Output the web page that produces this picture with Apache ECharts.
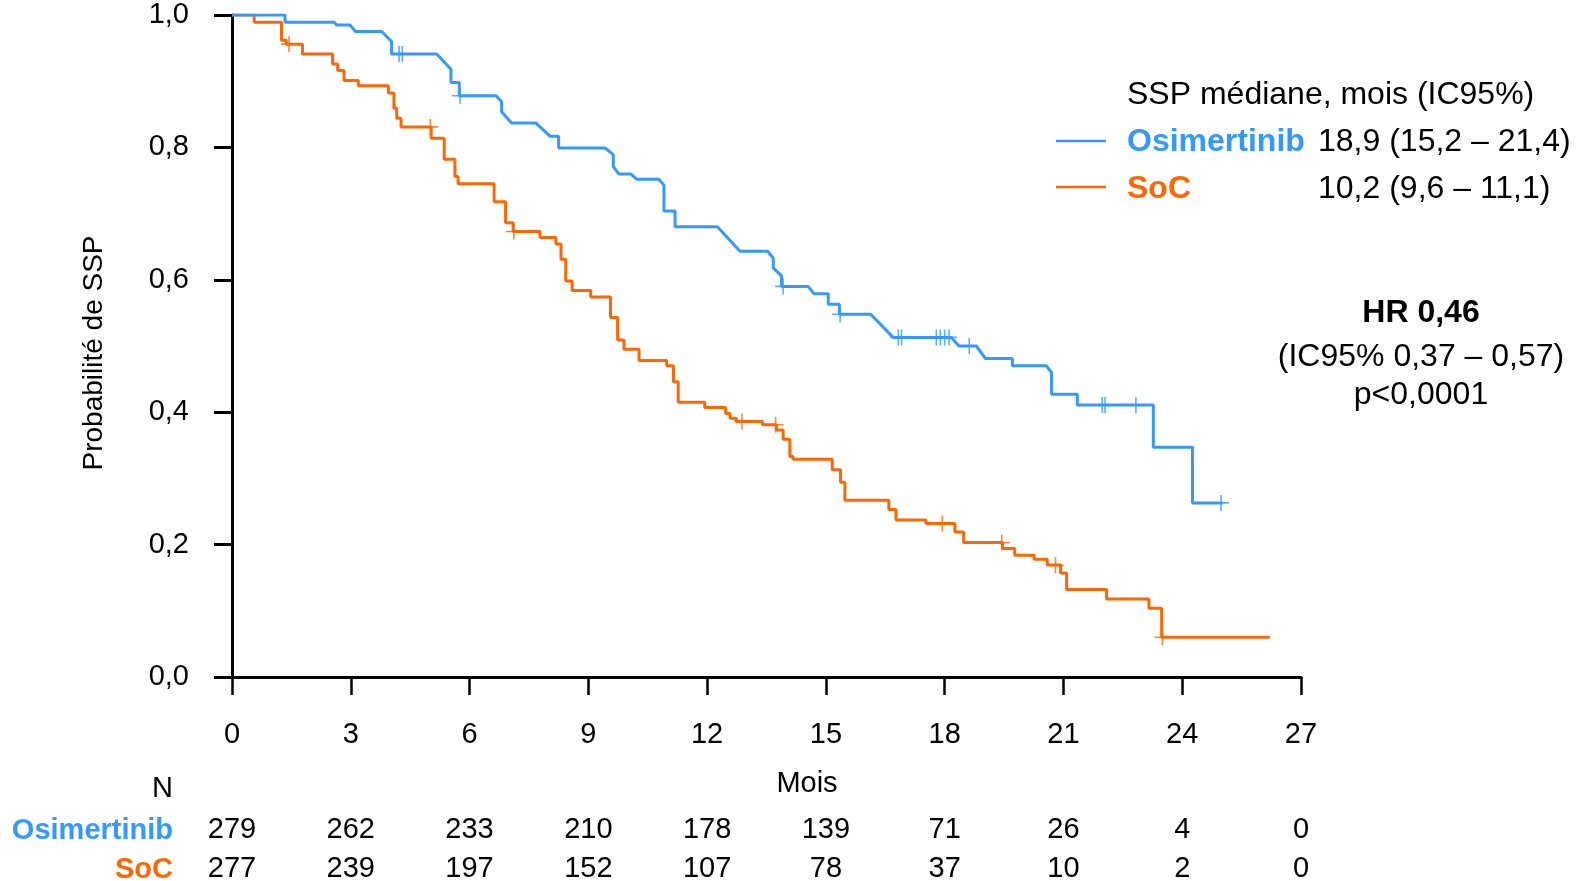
<!DOCTYPE html>
<html>
<head>
<meta charset="utf-8">
<script src="https://cdn.jsdelivr.net/npm/echarts@6/dist/echarts.min.js"></script>
<style>
    html, body { margin: 0; padding: 0; background: #fff; }
    #chart { width: 1580px; height: 881px; }
</style>
</head>
<body>
<div id="chart"></div>
<script>
// Courbe Osimertinib : sommets [mois, probabilité]
const osiCurve = [
    [0, 1.0], [1.34, 1.0], [1.34, 0.989], [2.58, 0.989], [2.64, 0.985], [2.98, 0.985],
    [3.12, 0.975], [3.78, 0.975], [4.03, 0.960], [4.03, 0.941], [5.17, 0.941], [5.53, 0.918],
    [5.53, 0.898], [5.74, 0.898], [5.74, 0.878], [6.67, 0.878], [6.81, 0.869], [6.81, 0.854],
    [7.06, 0.837], [7.67, 0.837], [8.03, 0.817], [8.25, 0.817], [8.25, 0.799], [9.43, 0.799],
    [9.63, 0.789], [9.63, 0.771], [9.77, 0.760], [10.07, 0.760], [10.22, 0.752], [10.78, 0.752],
    [10.91, 0.743], [10.91, 0.704], [11.19, 0.704], [11.19, 0.680], [12.26, 0.680], [12.83, 0.643],
    [13.53, 0.643], [13.67, 0.633], [13.67, 0.618], [13.88, 0.606], [13.88, 0.590], [14.55, 0.590],
    [14.70, 0.579], [15.06, 0.579], [15.06, 0.563], [15.34, 0.563], [15.34, 0.548], [16.13, 0.548],
    [16.70, 0.513], [18.17, 0.513], [18.36, 0.500], [18.80, 0.500], [19.03, 0.481], [19.71, 0.481],
    [19.71, 0.470], [20.57, 0.470], [20.70, 0.460], [20.70, 0.427], [21.35, 0.427], [21.35, 0.411],
    [23.27, 0.411], [23.27, 0.347], [24.26, 0.347], [24.26, 0.263], [25.02, 0.263]
];
const osiCensored = [4.22, 4.30, 5.76, 13.92, 15.36, 16.83, 16.91, 17.79, 17.89, 18.0, 18.11, 18.62, 21.98, 22.05, 22.83, 24.98];

// SoC : [mois, probabilité après chaque événement]
const socSteps = [
    [0, 1.0], [0.56, 0.989], [1.25, 0.962], [1.37, 0.956], [1.78, 0.941], [2.54, 0.926],
    [2.67, 0.916], [2.83, 0.901], [3.19, 0.893], [3.95, 0.882], [4.09, 0.859], [4.16, 0.844],
    [4.27, 0.831], [5.03, 0.814], [5.36, 0.782], [5.63, 0.756], [5.71, 0.745], [6.62, 0.718],
    [6.91, 0.686], [7.10, 0.673], [7.78, 0.664], [8.18, 0.654], [8.31, 0.631], [8.43, 0.598],
    [8.59, 0.584], [9.06, 0.574], [9.56, 0.543], [9.74, 0.509], [9.90, 0.495], [10.28, 0.478],
    [10.98, 0.470], [11.15, 0.446], [11.27, 0.415], [11.94, 0.407], [12.47, 0.398], [12.58, 0.391],
    [12.74, 0.386], [13.40, 0.381], [13.75, 0.373], [13.92, 0.359], [14.09, 0.333], [14.17, 0.329],
    [15.16, 0.313], [15.37, 0.294], [15.48, 0.267], [16.59, 0.253], [16.77, 0.237], [17.53, 0.232],
    [18.26, 0.219], [18.48, 0.203], [19.46, 0.194], [19.77, 0.184], [20.26, 0.178], [20.59, 0.169],
    [20.93, 0.157], [21.08, 0.132], [22.09, 0.118], [23.16, 0.104], [23.48, 0.060], [26.21, 0.060]
];
const socCensored = [1.44, 5.01, 7.12, 12.88, 13.73, 17.94, 19.44, 20.80, 23.50];

const xTicks = [0, 3, 6, 9, 12, 15, 18, 21, 24, 27];
const riskOsi = [279, 262, 233, 210, 178, 139, 71, 26, 4, 0];
const riskSoc = [277, 239, 197, 152, 107, 78, 37, 10, 2, 0];

const BLUE = "#3399ff";
const ORANGE = "#ff6600";
const FONT = "'Liberation Sans', Arial, sans-serif";
const PLUS = "path://M9,0H11V20H9Z M0,9H20V11H0Z";

function expandSteps(steps) {
    const out = [steps[0]];
    for (let i = 1; i < steps.length; i++) {
        out.push([steps[i][0], steps[i - 1][1]]);
        out.push(steps[i]);
    }
    return out;
}

function valueAt(curve, t) {
    for (let i = 0; i < curve.length - 1; i++) {
        const a = curve[i];
        const b = curve[i + 1];
        if (a[0] === b[0]) {
            continue;
        }
        if (t >= a[0] && t <= b[0]) {
            return a[1] + (b[1] - a[1]) * (t - a[0]) / (b[0] - a[0]);
        }
    }
    return curve[curve.length - 1][1];
}

const socCurve = expandSteps(socSteps);
const osiMarks = osiCensored.map(t => [t, valueAt(osiCurve, t)]);
const socMarks = socCensored.map(t => [t, valueAt(socCurve, t)]);

const comma = v => String(v).replace(".", ",");

function riskAxis(values, margin) {
    return {
        type: "value",
        position: "bottom",
        offset: 0,
        min: 0,
        max: 27,
        interval: 3,
        axisLine: { show: false },
        axisTick: { show: false },
        splitLine: { show: false },
        axisLabel: {
            margin,
            color: "#000",
            fontSize: 29,
            fontFamily: FONT,
            formatter: v => String(values[xTicks.indexOf(v)])
        }
    };
}

function text(x, y, str, opts) {
    return {
        type: "text",
        x,
        y,
        style: Object.assign({
            text: str,
            fill: "#000",
            fontSize: 32,
            fontFamily: FONT,
            textAlign: "left",
            textVerticalAlign: "middle"
        }, opts || {})
    };
}

const chart = echarts.init(document.getElementById("chart"), null, { renderer: "canvas" });

chart.setOption({
    backgroundColor: "#fff",
    animation: false,
    grid: { left: 232, top: 15, width: 1069, height: 662, containLabel: false, outerBoundsMode: "none" },
    xAxis: [
        {
            type: "value",
            min: 0,
            max: 27,
            interval: 3,
            axisLine: { lineStyle: { color: "#000", width: 3 } },
            axisTick: { length: 18, lineStyle: { color: "#000", width: 2.5 } },
            splitLine: { show: false },
            axisLabel: { margin: 43, color: "#000", fontSize: 29, fontFamily: FONT }
        },
        riskAxis(riskOsi, 138),
        riskAxis(riskSoc, 177)
    ],
    yAxis: {
        type: "value",
        min: 0,
        max: 1,
        interval: 0.2,
        axisLine: { show: true, lineStyle: { color: "#000", width: 3 } },
        axisTick: { show: true, length: 18, lineStyle: { color: "#000", width: 3 } },
        splitLine: { show: false },
        axisLabel: {
            margin: 43,
            color: "#000",
            fontSize: 29,
            fontFamily: FONT,
            formatter: v => comma(v.toFixed(1))
        }
    },
    series: [
        {
            name: "SoC",
            type: "line",
            data: socCurve,
            showSymbol: false,
            lineStyle: { color: ORANGE, width: 3 },
            z: 3
        },
        {
            name: "Osimertinib",
            type: "line",
            data: osiCurve,
            showSymbol: false,
            lineStyle: { color: BLUE, width: 3 },
            z: 4
        },
        {
            type: "scatter",
            data: socMarks,
            symbol: PLUS,
            symbolSize: 16,
            itemStyle: { color: ORANGE },
            z: 5
        },
        {
            type: "scatter",
            data: osiMarks,
            symbol: PLUS,
            symbolSize: 16,
            itemStyle: { color: BLUE },
            z: 5
        }
    ],
    graphic: [
        {
            type: "text",
            x: 94,
            y: 353,
            rotation: Math.PI / 2,
            style: {
                text: "Probabilité de SSP",
                fill: "#000",
                fontSize: 28,
                fontFamily: FONT,
                textAlign: "center",
                textVerticalAlign: "middle"
            }
        },
        text(807, 784, "Mois", { fontSize: 29, textAlign: "center" }),
        text(173, 789, "N", { fontSize: 29, textAlign: "right" }),
        text(173, 831, "Osimertinib", { fontSize: 29, textAlign: "right", fontWeight: "bold", fill: BLUE }),
        text(173, 870, "SoC", { fontSize: 29, textAlign: "right", fontWeight: "bold", fill: ORANGE }),

        text(1127, 95, "SSP médiane, mois (IC95%)"),
        { type: "line", shape: { x1: 1056, y1: 141, x2: 1106, y2: 141 }, style: { stroke: BLUE, lineWidth: 2.5 } },
        text(1127, 142, "Osimertinib", { fontWeight: "bold", fill: BLUE }),
        text(1318, 142, "18,9 (15,2 – 21,4)"),
        { type: "line", shape: { x1: 1056, y1: 187, x2: 1106, y2: 187 }, style: { stroke: ORANGE, lineWidth: 2.5 } },
        text(1127, 189, "SoC", { fontWeight: "bold", fill: ORANGE }),
        text(1318, 189, "10,2 (9,6 – 11,1)"),

        text(1421, 313, "HR 0,46", { fontWeight: "bold", textAlign: "center" }),
        text(1421, 357, "(IC95% 0,37 – 0,57)", { textAlign: "center" }),
        text(1421, 395, "p<0,0001", { textAlign: "center" })
    ]
});
</script>
</body>
</html>
